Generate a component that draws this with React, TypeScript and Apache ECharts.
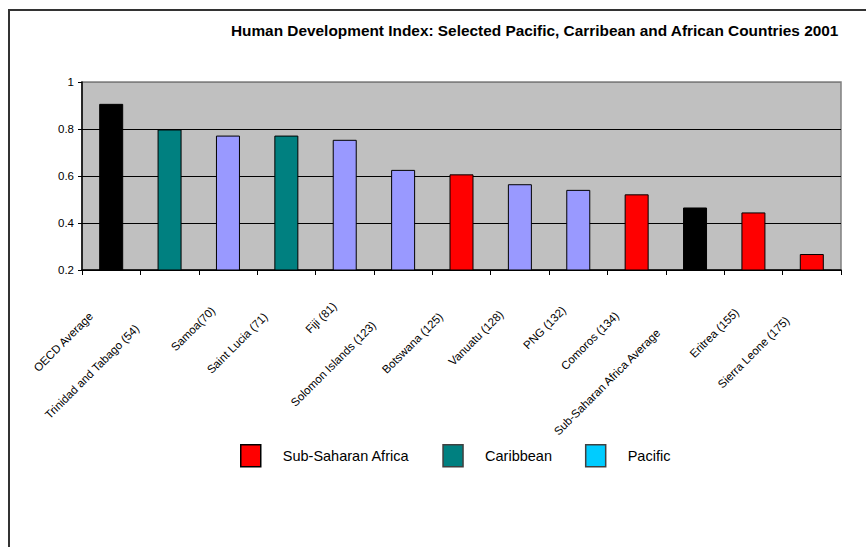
import React, { useEffect, useRef } from 'react';
import * as echarts from 'echarts';

const categories = [
  'OECD Average',
  'Trinidad and Tabago (54)',
  'Samoa(70)',
  'Saint Lucia (71)',
  'Fiji (81)',
  'Solomon Islands (123)',
  'Botswana (125)',
  'Vanuatu (128)',
  'PNG (132)',
  'Comoros (134)',
  'Sub-Saharan Africa Average',
  'Eritrea (155)',
  'Sierra Leone (175)',
];

const hdiValues = [0.907, 0.798, 0.772, 0.772, 0.754, 0.626, 0.607, 0.565, 0.541, 0.522, 0.466, 0.445, 0.268];

const regionOf = [
  'Average',
  'Caribbean',
  'Pacific',
  'Caribbean',
  'Pacific',
  'Pacific',
  'Sub-Saharan Africa',
  'Pacific',
  'Pacific',
  'Sub-Saharan Africa',
  'Average',
  'Sub-Saharan Africa',
  'Sub-Saharan Africa',
];

const seriesNames = ['Average', 'Sub-Saharan Africa', 'Caribbean', 'Pacific'];
const legendNames = ['Sub-Saharan Africa', 'Caribbean', 'Pacific'];

const FONT = '"Liberation Sans", Arial, Helvetica, sans-serif';

const barColors: Record<string, string> = {
  Average: '#000000',
  'Sub-Saharan Africa': '#FF0000',
  Caribbean: '#008080',
  Pacific: '#9999FF',
};

const legendColors: Record<string, string> = {
  'Sub-Saharan Africa': '#FF0000',
  Caribbean: '#008080',
  Pacific: '#00CCFF',
};

const legendBorders: Record<string, string> = {
  'Sub-Saharan Africa': '#000000',
  Caribbean: '#404040',
  Pacific: '#404040',
};

export default function App() {
  const ref = useRef<HTMLDivElement>(null);

  useEffect(() => {
    if (!ref.current) return;
    const chart = echarts.init(ref.current, undefined, { renderer: 'svg' });

    const canvas = document.createElement('canvas');
    const ctx = canvas.getContext('2d');
    const labelSize = 11.5;
    const rich: Record<string, any> = {};
    categories.forEach((c, i) => {
      let w = c.length * 5.7;
      if (ctx) {
        ctx.font = `${labelSize}px ${FONT}`;
        w = ctx.measureText(c).width;
      }
      rich['l' + i] = {
        fontSize: labelSize,
        fontFamily: FONT,
        color: '#000',
        padding: [0, 0.35 * w + 1, 0, 0],
      };
    });

    const series = seriesNames.map((name) => ({
      name,
      type: 'bar',
      barWidth: 24,
      barGap: '-100%',
      clip: true,
      itemStyle: {
        color: barColors[name],
        borderColor: '#000',
        borderWidth: 1,
      },
      data: hdiValues.map((v, i) => (regionOf[i] === name ? v : '-')),
    }));

    chart.setOption({
      animation: false,
      backgroundColor: '#ffffff',
      title: {
        text: 'Human Development Index: Selected Pacific, Carribean and African Countries 2001',
        right: 22,
        top: 18,
        textStyle: {
          fontFamily: FONT,
          fontSize: 15.4,
          fontWeight: 'bold',
          color: '#000',
        },
      },
      legend: {
        data: legendNames.map((name) => ({
          name,
          itemStyle: { color: legendColors[name], borderColor: legendBorders[name], borderWidth: 1.5 },
        })),
        left: 235,
        top: 439,
        icon: 'rect',
        itemWidth: 20,
        itemHeight: 22,
        itemGap: 33,
        textStyle: {
          fontFamily: FONT,
          fontSize: 14.5,
          color: '#000',
          padding: [0, 0, 0, 17],
        },
      },
      grid: {
        left: 82,
        right: 25,
        top: 82,
        bottom: 277,
        show: true,
        backgroundColor: '#C0C0C0',
        borderColor: '#808080',
        borderWidth: 1.5,
      },
      xAxis: {
        type: 'category',
        data: categories,
        boundaryGap: true,
        axisLine: { show: true, lineStyle: { color: '#000', width: 1.5 } },
        axisTick: { show: true, length: 5, interval: 0, alignWithLabel: false, lineStyle: { color: '#000', width: 1 } },
        axisLabel: {
          interval: 0,
          rotate: 45,
          margin: 24,
          fontSize: labelSize,
          fontFamily: FONT,
          color: '#000',
          formatter: (value: string, index: number) => `{l${index}|${value}}`,
          rich,
        },
        splitLine: { show: false },
      },
      yAxis: {
        type: 'value',
        min: 0.2,
        max: 1,
        interval: 0.2,
        axisLine: { show: true, lineStyle: { color: '#000', width: 1.5 } },
        axisTick: { show: true, length: 4, lineStyle: { color: '#000' } },
        axisLabel: {
          margin: 8,
          fontSize: 11.5,
          fontFamily: FONT,
          color: '#000',
        },
        splitLine: {
          show: true,
          lineStyle: { color: ['#000', '#000', '#000', '#000', '#808080'], width: 1 },
        },
      },
      graphic: [
        {
          type: 'line',
          shape: { x1: 8, y1: 10, x2: 866, y2: 10 },
          style: { stroke: '#333333', lineWidth: 2 },
        },
        {
          type: 'line',
          shape: { x1: 9, y1: 10, x2: 9, y2: 547 },
          style: { stroke: '#333333', lineWidth: 2 },
        },
      ],
      series,
    });

    return () => {
      chart.dispose();
    };
  }, []);

  return (
    <div
      ref={ref}
      style={{ position: 'absolute', left: 0, top: 0, width: 866, height: 547, background: '#fff' }}
    />
  );
}
